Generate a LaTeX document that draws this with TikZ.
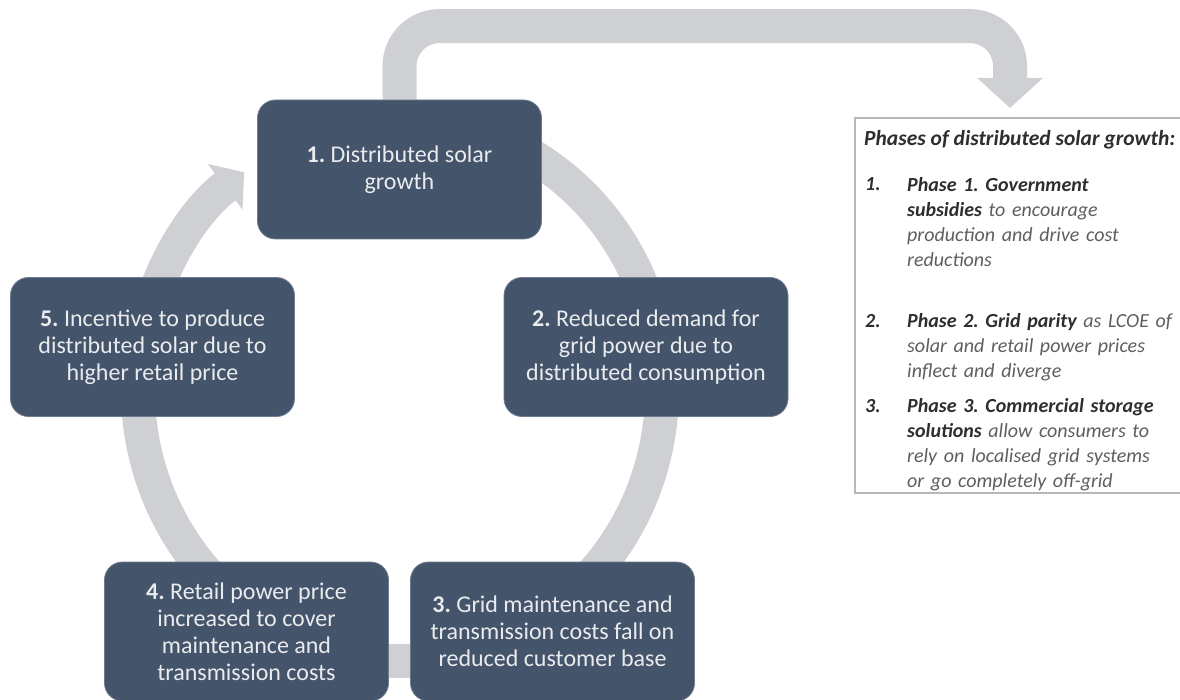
\documentclass[tikz,border=0pt]{standalone}
\usepackage{fontspec}
\setmainfont{Carlito}
\usetikzlibrary{arrows.meta,backgrounds}
\definecolor{boxblue}{HTML}{44546A}
\definecolor{boxedge}{HTML}{6E7C90}
\definecolor{ringgray}{HTML}{CED0D3}
\definecolor{boxtext}{HTML}{E9EBEE}
\definecolor{panelbold}{HTML}{2E2E2E}
\definecolor{panelreg}{HTML}{5E5E5E}
\definecolor{panelframe}{HTML}{B5B9BE}
\frenchspacing
\begin{document}
\begin{tikzpicture}[x=1pt,y=-1pt,
  cyclebox/.style={rectangle, rounded corners=18pt, fill=boxblue, draw=boxedge, line width=0.8pt,
    minimum width=284pt, minimum height=139pt, text=boxtext, align=center,
    font=\fontsize{24}{27}\selectfont\frenchspacing, inner sep=0pt},
  ring/.style={draw=ringgray, line width=34pt},
  panelnum/.style={anchor=base west, inner sep=0pt, text=panelbold, font=\fontsize{20}{25}\selectfont\itshape\bfseries},
  paneltxt/.style={anchor=north west, inner sep=0pt, align=left, text width=300pt, text=panelreg,
    font=\fontsize{20}{25}\selectfont\itshape\frenchspacing}
]
\useasboundingbox (0,0) rectangle (1180,700);

% cycle boxes
\node[cyclebox] (b1) at (399.5,169.5) {\textbf{1.} Distributed solar\\growth};
\node[cyclebox] (b2) at (646,347) {\textbf{2.} Reduced demand for\\grid power due to\\distributed consumption};
\node[cyclebox] (b3) at (552.5,631.5) {\textbf{3.} Grid maintenance and\\transmission costs fall on\\reduced customer base};
\node[cyclebox] (b4) at (246.5,631.5) {\textbf{4.} Retail power price\\increased to cover\\maintenance and\\transmission costs};
\node[cyclebox] (b5) at (152.5,347) {\textbf{5.} Incentive to produce\\distributed solar due to\\higher retail price};

% panel
\coordinate (pnw) at (855,118);
\coordinate (psw) at (855,493);
\coordinate (ptip) at (1010,108);
\draw[panelframe, line width=2pt] (1180,118) -- (pnw) -- (psw) -- (1180,493);
\node[anchor=base west, inner sep=0pt, text=panelbold, font=\fontsize{21.5}{25}\selectfont\itshape\bfseries] (ptitle) at (864,146) {Phases of distributed solar growth:};

\node[panelnum] (n1) at (865,191) {1.};
\node[paneltxt] (t1) at (907,173.5) {\strut\textcolor{panelbold}{\textbf{Phase 1. Government}}\\\textcolor{panelbold}{\textbf{subsidies}} to encourage\\production and drive cost\\reductions};
\node[panelnum] (n2) at (865,327) {2.};
\node[paneltxt] (t2) at (907,309.5) {\strut\textcolor{panelbold}{\textbf{Phase 2. Grid parity}} as LCOE of\\solar and retail power prices\\inflect and diverge};
\node[panelnum] (n3) at (865,412) {3.};
\node[paneltxt] (t3) at (907,394.5) {\strut\textcolor{panelbold}{\textbf{Phase 3. Commercial storage}}\\\textcolor{panelbold}{\textbf{solutions}} allow consumers to\\rely on localised grid systems\\or go completely off-grid};

\begin{scope}[on background layer]
  \coordinate (c) at (400,390);
  \draw[ring, -{Triangle[width=56pt,length=24pt]}] (c) ++(-80:262 and 271)
    arc[start angle=-80, end angle=233.5, x radius=262, y radius=271];
  \draw[ring, rounded corners=40pt, -{Triangle[width=64pt,length=30pt]}]
    (b1.north) -- ++(0,-73.5) -| (ptip);
\end{scope}
\end{tikzpicture}
\end{document}
